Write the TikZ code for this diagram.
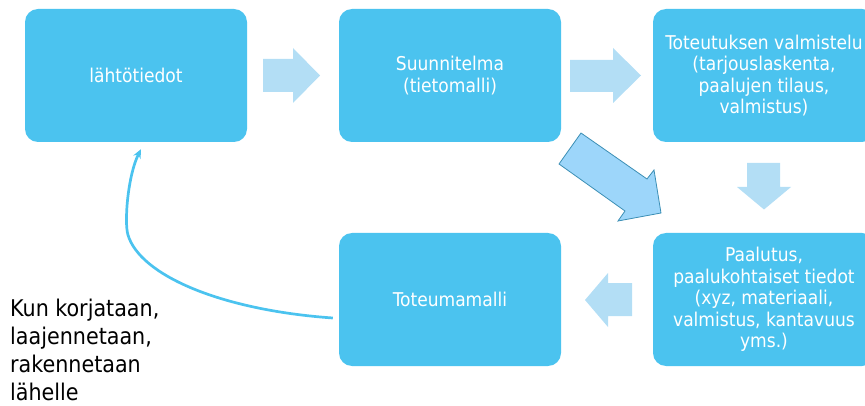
\documentclass[tikz,border=0pt]{standalone}
\usepackage{fontspec}
\setmainfont{DejaVu Sans Condensed}
\usetikzlibrary{arrows.meta,calc}
\definecolor{boxblue}{HTML}{4BC3EF}
\definecolor{lightarrow}{HTML}{B3DEF5}
\definecolor{diagfill}{HTML}{9DD6FA}
\definecolor{diagdraw}{HTML}{3C8FB5}
\begin{document}
\begin{tikzpicture}[x=1pt,y=-1pt,
  stagebox/.style={fill=boxblue, rounded corners=13pt, minimum width=222pt, minimum height=133pt,
    inner sep=0pt, text=white, align=center, font=\fontsize{19}{21.6}\selectfont},
  blockarrow/.style={fill=lightarrow, draw=none},
  diagarrow/.style={fill=diagfill, draw=diagdraw, line width=0.8pt, line join=miter},
  loopline/.style={draw=boxblue, line width=2.7pt, -{Stealth[length=9pt,width=8pt]}},
  notetext/.style={anchor=north west, align=left, inner sep=0pt, text=black,
    font=\fontsize{23}{28}\selectfont}]
\useasboundingbox (0,0) rectangle (865,406);

\node[stagebox] (lahto) at (136,75.5) {lähtötiedot};
\node[stagebox] (suun) at (450,75.5) {Suunnitelma\\(tietomalli)};
\node[stagebox] (valm) at (764,75.5) {Toteutuksen valmistelu\\(tarjouslaskenta,\\paalujen tilaus,\\valmistus)};
\node[stagebox] (tot) at (450,299.5) {Toteumamalli};
\node[stagebox] (paal) at (764,299.5) {Paalutus,\\paalukohtaiset tiedot\\(xyz, materiaali,\\valmistus, kantavuus\\yms.)};

% block arrows
\path[blockarrow] (263,59) -- (293,59) -- (293,48) -- (320,75.5) -- (293,103) -- (293,92) -- (263,92) -- cycle;
\path[blockarrow] (570,60) -- (613,60) -- (613,48) -- (641,75.5) -- (613,103) -- (613,92) -- (570,92) -- cycle;
\path[blockarrow] (747,163) -- (780,163) -- (780,187) -- (791,187) -- (764,209.5) -- (737,187) -- (747,187) -- cycle;
\path[blockarrow] (632,283) -- (608,283) -- (608,273) -- (585,300) -- (608,327) -- (608,316) -- (632,316) -- cycle;

% diagonal arrow
\draw[diagarrow] (581,133) -- (647,179) -- (654,170) -- (661,213) -- (618,221) -- (625,211) -- (559,164) -- cycle;

% feedback curve
\draw[loopline] ($(tot.west)+(-6,18.5)$) .. controls (220,310) and (140,275) .. (128,235)
  .. controls (124,222) and (128,175) .. ($(lahto.south)+(5,7)$);

\node[notetext] (note) at (10,299) {Kun korjataan,\\laajennetaan,\\rakennetaan\\lähelle};
\end{tikzpicture}
\end{document}
